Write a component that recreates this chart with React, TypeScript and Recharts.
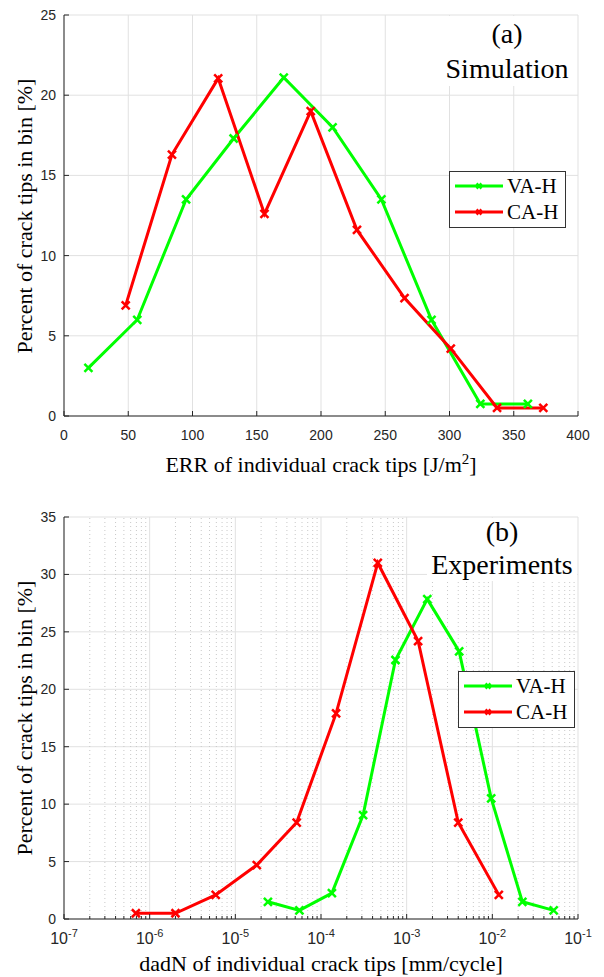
import React from 'react';
import { LineChart, Line, XAxis, YAxis, CartesianGrid, ReferenceLine, Legend } from 'recharts';

const SERIF = '"Liberation Serif", "Times New Roman", serif';
const SANS = '"Liberation Sans", Arial, sans-serif';
const INK = '#262626';
const GRID = '#e1e1e1';
const MINOR = '#c8c8c8';
const GREEN = '#00ff00';
const RED = '#ff0000';

// (a) Simulation: ERR [J/m2] vs percent in bin
const SIM_VA_X = [19, 57, 95, 132, 171, 209, 247, 286, 324, 361];
const SIM_VA_Y = [3.0, 6.0, 13.5, 17.3, 21.1, 18.0, 13.5, 6.0, 0.75, 0.75];
const SIM_CA_X = [48, 84, 120, 156, 192, 228, 265, 301, 337, 373];
const SIM_CA_Y = [6.9, 16.3, 21.05, 12.6, 19.0, 11.6, 7.35, 4.2, 0.5, 0.5];
const SIM_X_TICKS = [0, 50, 100, 150, 200, 250, 300, 350, 400];
const SIM_Y_TICKS = [0, 5, 10, 15, 20, 25];

// (b) Experiments: dadN [mm/cycle] vs percent in bin
const EXP_VA_X = [2.4e-5, 5.6e-5, 1.34e-4, 3.1e-4, 7.4e-4, 1.74e-3, 4.1e-3, 9.7e-3, 2.24e-2, 5.2e-2];
const EXP_VA_Y = [1.5, 0.75, 2.25, 9.05, 22.55, 27.85, 23.3, 10.5, 1.5, 0.75];
const EXP_CA_X = [6.9e-7, 2.0e-6, 5.9e-6, 1.78e-5, 5.2e-5, 1.5e-4, 4.6e-4, 1.36e-3, 4.0e-3, 1.19e-2];
const EXP_CA_Y = [0.5, 0.5, 2.1, 4.7, 8.4, 17.9, 31.0, 24.2, 8.4, 2.1];
const EXP_DECADES = [-7, -6, -5, -4, -3, -2, -1];
const EXP_Y_TICKS = [0, 5, 10, 15, 20, 25, 30, 35];

const zip = (xs: number[], ys: number[]) => xs.map((x, i) => ({ x, y: ys[i] }));

// major + minor positions of the log axis
const EXP_X_TICKS = EXP_DECADES.flatMap(d =>
  d === -1 ? [Math.pow(10, d)] : [1, 2, 3, 4, 5, 6, 7, 8, 9].map(m => Number((m * Math.pow(10, d)).toPrecision(3)))
);
const isMajor = (v: number) => Math.abs(Math.log10(v) - Math.round(Math.log10(v))) < 1e-9;

const XMark = ({ cx, cy, color, r = 4, w = 2.5 }: any) => (
  <path
    d={`M${cx - r},${cy - r}L${cx + r},${cy + r}M${cx - r},${cy + r}L${cx + r},${cy - r}`}
    stroke={color} strokeWidth={w} fill="none"
  />
);

const dotFor = (color: string, tag: string) => (p: any) =>
  <XMark key={`${tag}-${p.index}`} cx={p.cx} cy={p.cy} color={color} />;

const YTick = ({ x, y, payload }: any) => (
  <g>
    <line x1={x} x2={x + 5} y1={y} y2={y} stroke={INK} />
    <text x={x - 8} y={y + 5} textAnchor="end" fontFamily={SANS} fontSize={14} fill={INK}>{payload.value}</text>
  </g>
);

const LinXTick = ({ x, y, payload }: any) => (
  <g>
    <line x1={x} x2={x} y1={y} y2={y - 5} stroke={INK} />
    <text x={x} y={y + 24} textAnchor="middle" fontFamily={SANS} fontSize={14} fill={INK}>{payload.value}</text>
  </g>
);

const LogXTick = ({ x, y, payload }: any) => {
  const v = payload.value;
  const major = isMajor(v);
  return (
    <g>
      <line x1={x} x2={x} y1={y} y2={y - (major ? 5 : 3)} stroke={INK} />
      {major && (
        <text x={x} y={y + 25} textAnchor="middle" fontFamily={SANS} fontSize={16} fill={INK}>
          10<tspan dy={-7} fontSize={11}>{Math.round(Math.log10(v))}</tspan>
        </text>
      )}
    </g>
  );
};

const LegendBox = () => (
  <div style={{
    border: '1px solid #333', background: '#fff', boxSizing: 'border-box', width: 117, height: 57,
    padding: '1px 0 0 4px', fontFamily: SERIF, fontSize: 21, color: '#000',
  }}>
    {[['VA-H', GREEN], ['CA-H', RED]].map(([name, c]) => (
      <div key={name} style={{ display: 'flex', alignItems: 'center', height: 26 }}>
        <svg width={50} height={10} style={{ display: 'block' }}>
          <line x1={1} x2={49} y1={5} y2={5} stroke={c} strokeWidth={3} />
          <XMark cx={25} cy={5} r={2.5} color={c} w={2.5} />
        </svg>
        <span style={{ marginLeft: 3, lineHeight: 1 }}>{name}</span>
      </div>
    ))}
  </div>
);

const label = (extra: React.CSSProperties): React.CSSProperties => ({
  position: 'absolute', fontFamily: SERIF, whiteSpace: 'nowrap', lineHeight: 1, color: '#000', ...extra,
});

export default function App() {
  return (
    <div style={{ position: 'absolute', left: 0, top: 0, width: 604, height: 977, background: '#fff' }}>
      {/* (a) Simulation */}
      <div style={{ position: 'absolute', left: 0, top: 0 }}>
        <LineChart width={604} height={470} margin={{ top: 15, right: 26, left: 0, bottom: 0 }}>
          <CartesianGrid stroke={GRID} />
          <XAxis
            dataKey="x" type="number" domain={[0, 400]} ticks={SIM_X_TICKS} interval={0}
            height={54} tickSize={0} tickMargin={0} tickLine={false} tick={<LinXTick />}
            axisLine={{ stroke: INK }} allowDataOverflow
          />
          <YAxis
            type="number" domain={[0, 25]} ticks={SIM_Y_TICKS} interval={0}
            width={64} tickSize={0} tickMargin={0} tickLine={false} tick={<YTick />}
            axisLine={{ stroke: INK }}
          />
          <Line data={zip(SIM_VA_X, SIM_VA_Y)} dataKey="y" name="VA-H" stroke={GREEN} strokeWidth={3}
            dot={dotFor(GREEN, 'sva')} activeDot={false} isAnimationActive={false} />
          <Line data={zip(SIM_CA_X, SIM_CA_Y)} dataKey="y" name="CA-H" stroke={RED} strokeWidth={3}
            dot={dotFor(RED, 'sca')} activeDot={false} isAnimationActive={false} />
          <Legend layout="horizontal" verticalAlign="middle" align="center"
            wrapperStyle={{ left: 449, top: 171, width: 117, height: 57 }} content={() => <LegendBox />} />
        </LineChart>
      </div>

      {/* (b) Experiments */}
      <div style={{ position: 'absolute', left: 0, top: 500 }}>
        <LineChart width={604} height={470} margin={{ top: 17, right: 26, left: 0, bottom: 0 }}>
          <CartesianGrid stroke={GRID} vertical={false} />
          {EXP_X_TICKS.map(v => (
            <ReferenceLine key={v} x={v} stroke={isMajor(v) ? GRID : MINOR}
              strokeDasharray={isMajor(v) ? undefined : '1 3'} />
          ))}
          <XAxis
            dataKey="x" type="number" scale="log" domain={[1e-7, 1e-1]} ticks={EXP_X_TICKS} interval={0}
            height={51} tickSize={0} tickMargin={0} tickLine={false} tick={<LogXTick />}
            axisLine={{ stroke: INK }} allowDataOverflow
          />
          <YAxis
            type="number" domain={[0, 35]} ticks={EXP_Y_TICKS} interval={0}
            width={64} tickSize={0} tickMargin={0} tickLine={false} tick={<YTick />}
            axisLine={{ stroke: INK }}
          />
          <Line data={zip(EXP_VA_X, EXP_VA_Y)} dataKey="y" name="VA-H" stroke={GREEN} strokeWidth={3}
            dot={dotFor(GREEN, 'eva')} activeDot={false} isAnimationActive={false} />
          <Line data={zip(EXP_CA_X, EXP_CA_Y)} dataKey="y" name="CA-H" stroke={RED} strokeWidth={3}
            dot={dotFor(RED, 'eca')} activeDot={false} isAnimationActive={false} />
          <Legend layout="horizontal" verticalAlign="middle" align="center"
            wrapperStyle={{ left: 458, top: 171, width: 117, height: 57 }} content={() => <LegendBox />} />
        </LineChart>
      </div>

      {/* panel titles */}
      <div style={label({ left: 437, top: 16, width: 140, height: 70, background: '#fff', textAlign: 'center', fontSize: 28 })}>
        <div style={{ position: 'absolute', left: 0, right: 0, top: 4 }}>(a)</div>
        <div style={{ position: 'absolute', left: 0, right: 0, top: 39 }}>Simulation</div>
      </div>
      <div style={label({ left: 427, top: 518, width: 150, height: 63, background: '#fff', textAlign: 'center', fontSize: 28 })}>
        <div style={{ position: 'absolute', left: 0, right: 0, top: 0 }}>(b)</div>
        <div style={{ position: 'absolute', left: 0, right: 0, top: 33 }}>Experiments</div>
      </div>

      {/* axis titles */}
      <div style={label({ left: 25, top: 216, fontSize: 22, transform: 'translate(-50%,-50%) rotate(-90deg)' })}>
        Percent of crack tips in bin [%]
      </div>
      <div style={label({ left: 321, top: 464, fontSize: 22, transform: 'translate(-50%,-50%)' })}>
        ERR of individual crack tips [J/m<sup style={{ fontSize: 15, verticalAlign: 8 }}>2</sup>]
      </div>
      <div style={label({ left: 25, top: 718, fontSize: 22, transform: 'translate(-50%,-50%) rotate(-90deg)' })}>
        Percent of crack tips in bin [%]
      </div>
      <div style={label({ left: 321, top: 964, fontSize: 22, transform: 'translate(-50%,-50%)' })}>
        dadN of individual crack tips [mm/cycle]
      </div>
    </div>
  );
}
